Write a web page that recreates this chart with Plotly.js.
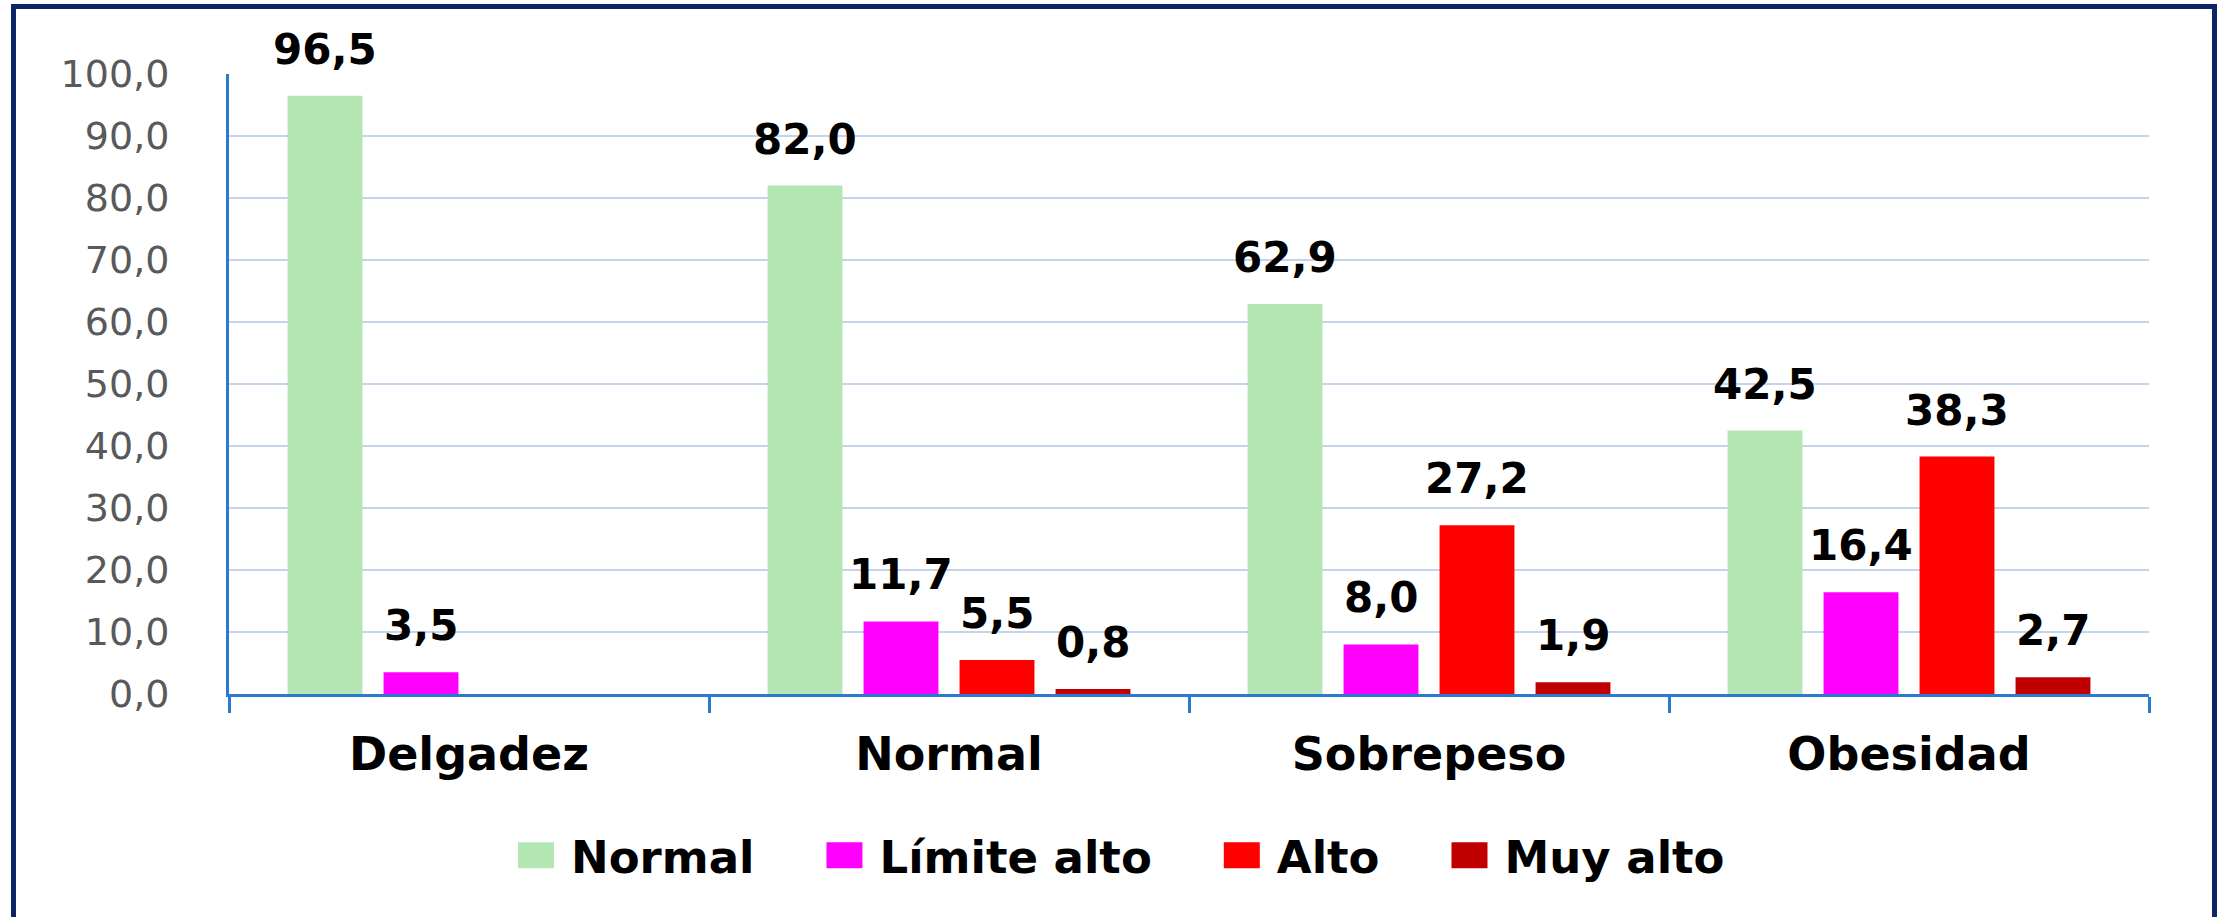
<!DOCTYPE html>
<html>
<head>
<meta charset="utf-8">
<script src="https://cdn.plot.ly/plotly-3.0.1.min.js"></script>
<style>
  html, body { margin: 0; padding: 0; background: #ffffff; overflow: hidden; }
  #chart { position: absolute; left: 0; top: 0; width: 2221px; height: 917px; }
  #frame { position: absolute; left: 11px; top: 4px; width: 2196px; height: 1000px;
           border: 5px solid #0b2566; border-bottom: none; pointer-events: none; z-index: 10; }
</style>
</head>
<body>
<div id="chart"></div>
<div id="frame"></div>
<script>
// ---- data ----
var categories = ["Delgadez", "Normal", "Sobrepeso", "Obesidad"];
var seriesNames = ["Normal", "Límite alto", "Alto", "Muy alto"];
var normalVals = [96.5, 82.0, 62.9, 42.5];
var limiteAltoVals = [3.5, 11.7, 8.0, 16.4];
var altoVals = [null, 5.5, 27.2, 38.3];
var muyAltoVals = [null, 0.8, 1.9, 2.7];
var yTickVals = [0, 10, 20, 30, 40, 50, 60, 70, 80, 90, 100];

// ---- style ----
var seriesColors = ["#b4e6b4", "#ff00ff", "#ff0000", "#c00000"];
var FONT = "DejaVu Sans";
var BARGAP = 0.2;
var BARGROUPGAP = 0.22;

var allVals = [normalVals, limiteAltoVals, altoVals, muyAltoVals];

var traces = allVals.map(function (vals, i) {
  return {
    type: "bar",
    name: seriesNames[i],
    x: categories,
    y: vals,
    marker: { color: seriesColors[i], line: { width: 0 } },
    hoverinfo: "skip"
  };
});

function fmt(v) { return v.toFixed(1).replace(".", ","); }

var nSeries = allVals.length;
var slot = (1 - BARGAP) / nSeries;
var annotations = [];
allVals.forEach(function (vals, i) {
  vals.forEach(function (v, j) {
    if (v === null) return;
    annotations.push({
      xref: "x", yref: "y",
      x: j + (i - (nSeries - 1) / 2) * slot,
      y: v,
      text: fmt(v),
      showarrow: false,
      xanchor: "center",
      yanchor: "bottom",
      yshift: 20,
      font: { family: FONT, size: 42, color: "#000000", weight: "bold" }
    });
  });
});

var layout = {
  width: 2221,
  height: 917,
  margin: { l: 229, r: 72, t: 74, b: 223 },
  paper_bgcolor: "#ffffff",
  plot_bgcolor: "#ffffff",
  separators: ",.",
  barmode: "group",
  bargap: BARGAP,
  bargroupgap: BARGROUPGAP,
  showlegend: true,
  legend: {
    orientation: "h",
    xref: "container", yref: "container",
    x: 0.491, xanchor: "center",
    y: 0.067, yanchor: "middle",
    font: { family: FONT, size: 45, color: "#000000", weight: "bold" },
    itemwidth: 110,
    traceorder: "normal"
  },
  xaxis: {
    type: "category",
    showline: true,
    linecolor: "#2a7ad4",
    linewidth: 3,
    ticks: "outside",
    tickson: "boundaries",
    ticklen: 16,
    tickwidth: 3,
    tickcolor: "#2a7ad4",
    showgrid: false,
    ticklabelstandoff: 18,
    tickfont: { family: FONT, size: 46, color: "#000000", weight: "bold" }
  },
  yaxis: {
    range: [0, 100],
    tickvals: yTickVals,
    tickformat: ".1f",
    showline: true,
    linecolor: "#2a7ad4",
    linewidth: 3,
    ticks: "",
    showgrid: true,
    gridcolor: "#c3d4ec",
    gridwidth: 2,
    zeroline: false,
    ticklabelstandoff: 49,
    tickfont: { family: FONT, size: 38, color: "#595959" }
  },
  annotations: annotations
};

Plotly.newPlot("chart", traces, layout, { displayModeBar: false, staticPlot: true }).then(function (gd) {
  var pts = gd.querySelectorAll(".legend .legendpoints path");
  pts.forEach(function (p) { p.setAttribute("d", "M43,13H7V-13H43Z"); });
});
</script>
</body>
</html>
